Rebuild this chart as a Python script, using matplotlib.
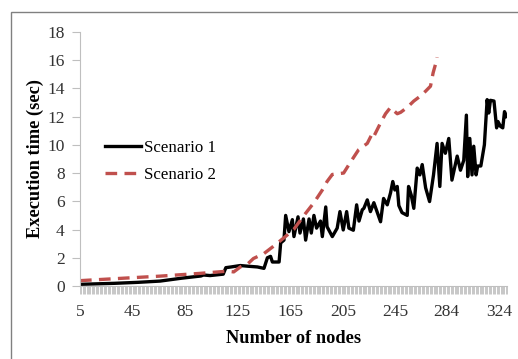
import matplotlib
matplotlib.use("Agg")
import matplotlib.pyplot as plt
from matplotlib.patches import Rectangle

plt.rcParams['font.family'] = ['Liberation Serif', 'DejaVu Serif']

# Scenario 1 (black) - nodes / execution time (sec)
nodes1 = [5, 31, 49, 66, 82, 97, 99, 104, 112, 114, 116, 120, 127, 133, 140, 145,
          147.6, 150, 151.4, 156.5, 157.7, 160.2, 161.5, 164, 166.6, 167.8, 170.9,
          172.4, 175, 176.7, 179.3, 181, 183, 185, 188, 189.4, 192, 193, 197, 200.7,
          202.8, 205.3, 207.9, 209.6, 213, 215.5, 217.3, 219.8, 221, 223.6, 226,
          228.6, 231, 233.7, 236, 238.8, 241.3, 243, 244.6, 246.4, 247.6, 250, 254,
          255, 257, 259, 261.6, 263.6, 265.4, 268, 271, 274, 276.7, 278.8, 280.5,
          283, 285.6, 288, 292, 294.5, 297, 299, 300, 301.6, 303.3, 304.6, 306.4,
          307.6, 310, 312.7, 314.8, 316, 317.3, 320, 322, 323, 325, 326.7, 328, 329.5]
time1 = [0.12, 0.19, 0.26, 0.35, 0.55, 0.71, 0.78, 0.74, 0.82, 0.84, 1.3, 1.35, 1.45,
         1.4, 1.35, 1.25, 2.0, 2.1, 1.7, 1.7, 3.05, 3.25, 5.0, 3.85, 4.7, 3.5, 4.9,
         3.75, 4.75, 3.25, 4.75, 3.75, 5.0, 4.1, 4.6, 3.5, 5.6, 4.2, 3.5, 4.1,
         5.27, 3.97, 5.27, 4.1, 3.95, 5.75, 4.6, 5.4, 5.5, 6.1, 5.27,
         5.9, 5.27, 4.55, 6.2, 5.75, 6.6, 7.4, 6.8, 7.05, 5.7, 5.2, 5.0,
         7.05, 6.45, 5.5, 8.35, 7.87, 8.6, 6.95, 5.98, 7.87, 10.1, 7.05, 10.1,
         9.4, 10.45, 7.5, 9.2, 8.2, 8.9, 12.1, 7.75, 10.45, 7.87, 9.9, 7.87,
         8.5, 8.5, 10.0, 13.2, 12.25, 13.15, 13.1, 11.2, 11.65, 11.3, 11.2, 12.35, 12.0]

# Scenario 2 (red dashed)
nodes2 = [5, 66, 97, 117, 122, 127, 133, 137, 145, 152, 160, 167.6, 175, 183, 189.4,
          193, 197, 205.6, 211, 217, 223.6, 227.4, 228.6, 233.7, 237.5, 241.3, 244,
          246.4, 249, 254, 259, 264, 268, 271.7, 273.7, 275.5, 276.7]
time2 = [0.38, 0.7, 0.9, 1.05, 1.0, 1.35, 1.6, 1.95, 2.3, 2.8, 3.4, 4.0, 4.95, 5.9, 6.8,
         7.4, 7.9, 8.0, 8.8, 9.65, 10.1, 10.8, 10.6, 11.55, 12.2, 12.65, 12.4,
         12.2, 12.3, 12.65, 13.1, 13.45, 13.8, 14.15, 15.1, 15.7, 16.2]

xtick_labels = [5, 45, 85, 125, 165, 205, 245, 284, 324]
yticks = list(range(0, 19, 2))

fig = plt.figure(figsize=(5.18, 3.59), dpi=100)
ax = fig.add_axes([0.1544, 0.2033, 0.8246, 0.708])

ax.plot(nodes1, time1, '-', color='black', linewidth=2.4, label='Scenario 1')
ax.plot(nodes2, time2, '--', color='#c0504d', linewidth=2.4, dashes=(3.5, 2.2),
        label='Scenario 2')

ax.set_xlim(5, 330)
ax.set_ylim(0, 18)
ax.set_yticks(yticks)
ax.set_xticks(xtick_labels)
ax.set_xticks(range(5, 331), minor=True)

for s in ['top', 'right']:
    ax.spines[s].set_visible(False)
ax.spines['left'].set_color('#bfbfbf')
ax.spines['bottom'].set_color('#bfbfbf')
ax.tick_params(axis='y', length=6, color='#bfbfbf', labelsize=12.5,
               labelcolor='#333333', pad=5)
ax.tick_params(axis='x', which='major', length=6, color='#bfbfbf', width=0.6,
               labelsize=12.5, labelcolor='#333333', pad=7)
ax.tick_params(axis='x', which='minor', length=6, color='#b0b0b0', width=0.5)

ax.set_xlabel('Number of nodes', fontsize=13.2, fontweight='bold', labelpad=7)
ax.set_ylabel('Execution time (sec)', fontsize=13.2, fontweight='bold', labelpad=2)

ax.legend(loc='upper left', bbox_to_anchor=(0.19, 0.63), bbox_transform=fig.transFigure,
          frameon=False, fontsize=12.2, handlelength=2.1, labelspacing=0.65,
          handletextpad=0.2, borderaxespad=0)

frame = Rectangle((11 / 518, -0.2), 1.2, 0.2 + 1 - 12 / 359, transform=fig.transFigure,
                  fill=False, edgecolor='#808080', linewidth=1.0, clip_on=False)
fig.patches.append(frame)

fig.savefig('out.png', dpi=100)
